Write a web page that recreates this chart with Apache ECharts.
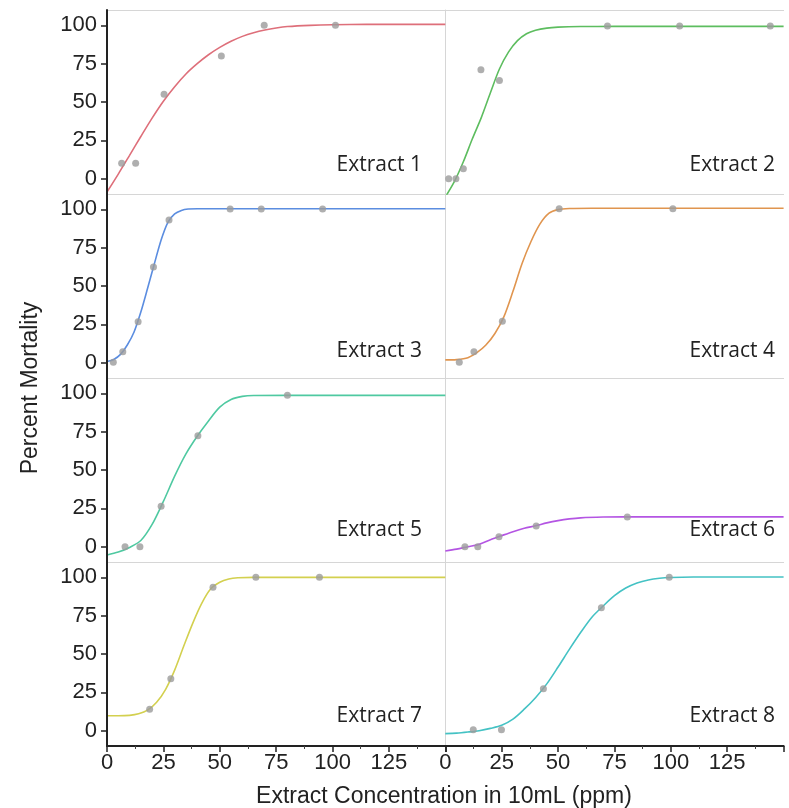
<!DOCTYPE html>
<html><head><meta charset="utf-8">
<script src="https://cdn.jsdelivr.net/npm/echarts@6/dist/echarts.min.js"></script>
<style>html,body{margin:0;padding:0;background:#fff}#c{width:789px;height:808px}</style>
</head><body><div id="c"></div>
<script>
// ---------- data ----------
const extractNames = ['Extract 1','Extract 2','Extract 3','Extract 4','Extract 5','Extract 6','Extract 7','Extract 8'];
const xTickValues = [0, 25, 50, 75, 100, 125];
const yTickValues = [0, 25, 50, 75, 100];
const xAxisTitle = 'Extract Concentration in 10mL (ppm)';
const yAxisTitle = 'Percent Mortality';

const ext1Points = [[6.5,10],[12.7,10],[25.3,55],[50.7,80],[69.7,100],[101.3,100]];
const ext1Curve  = [[0,-8.7],[5,3],[10,15.2],[15,27.5],[20,39.5],[25,50.5],[30,60],[35,68.3],[40,75],[45,80.8],[50,85.6],[55,89.6],[60,92.8],[65,95.2],[70,97],[75,98.3],[80,99.2],[90,100],[100,100.4],[115,100.6],[130,100.6],[150,100.6]];

const ext2Points = [[1.5,0],[4.7,0],[8,6.5],[15.8,71],[24,64],[71.9,99.6],[103.9,99.6],[144.1,99.6]];
const ext2Curve  = [[0,-12],[4,-2],[8,11],[12,26],[16,40],[20,56],[24,71.5],[28,82.5],[32,90],[36,94.5],[40,96.8],[45,98.2],[50,98.8],[60,99.2],[75,99.3],[100,99.3],[125,99.3],[150,99.3]];

const ext3Points = [[2.8,0.3],[7,7.2],[13.8,26.7],[20.6,62.4],[27.5,93],[54.6,100.2],[68.4,100.2],[95.6,100.2]];
const ext3Curve  = [[0,0.8],[3,2.1],[6,5.4],[9,11.5],[12,20],[15,33],[18,48.5],[21,64.5],[24,80],[27,91.5],[30,97],[33,99.3],[36,100.2],[40,100.4],[50,100.4],[75,100.4],[100,100.4],[150,100.4]];

const ext4Points = [[6.2,0.3],[12.7,7.2],[25.3,27],[50.5,100.3],[100.9,100.3]];
const ext4Curve  = [[0,1.8],[5,2],[10,3.2],[14,6.5],[18,11.5],[22,19],[26,30],[30,46.5],[34,64.5],[38,79],[42,90.5],[46,97.5],[50,99.8],[55,100.5],[65,100.7],[100,100.7],[150,100.7]];

const ext5Points = [[8,0],[14.6,0],[24,26.3],[40.3,72.4],[80,98.7]];
const ext5Curve  = [[0,-5.4],[5,-3.5],[10,-0.5],[15,4],[20,14.5],[25,29.5],[30,46],[35,60.5],[40,72],[45,82],[50,91],[55,96],[60,98],[65,98.6],[80,98.7],[100,98.7],[125,98.7],[150,98.7]];

const ext6Points = [[8.7,0],[14.4,0],[23.8,6.5],[40.3,13.4],[80.7,19.4]];
const ext6Curve  = [[0,-2.8],[5,-1.6],[10,0],[15,1.5],[20,4.5],[25,7.2],[30,9.8],[35,12],[40,13.6],[45,15.5],[50,17],[55,18.1],[60,18.8],[70,19.3],[80,19.4],[100,19.4],[125,19.4],[150,19.4]];

const ext7Points = [[18.9,14],[28.3,33.9],[47,93.5],[66,100],[94.2,100]];
const ext7Curve  = [[0,9.7],[5,9.7],[10,10],[14,11],[18,13.4],[22,18.5],[26,27],[30,39.5],[34,55],[38,70],[42,83],[46,92.5],[50,96.8],[54,98.9],[58,99.7],[65,100],[80,100],[100,100],[125,100],[150,100]];

const ext8Points = [[12.4,0.6],[24.9,0.6],[43.5,27.4],[69.2,80.2],[99.3,100]];
const ext8Curve  = [[0,-1.9],[5,-1.6],[10,-0.9],[15,0],[20,1.5],[25,3.5],[30,7.5],[35,14],[40,21.5],[45,30.5],[50,41.5],[55,53],[60,64],[65,74],[70,81.3],[75,88],[80,93],[85,96.3],[90,98.3],[95,99.4],[100,99.9],[110,100.2],[125,100.2],[150,100.2]];

const pointSets = [ext1Points,ext2Points,ext3Points,ext4Points,ext5Points,ext6Points,ext7Points,ext8Points];
const curveSets = [ext1Curve,ext2Curve,ext3Curve,ext4Curve,ext5Curve,ext6Curve,ext7Curve,ext8Curve];

// ---------- style ----------
const lineColors = ['#de6f7a','#5dbd5f','#5b8de0','#e0954f','#4fc9a1','#b455e3','#d3d04f','#44c2c4'];
const LEFT = 107, W = 338.3, TOP = 10, H = 184;
const labelCenters = [164.7, 351.3, 530.4, 716.2];
const axisFont = 'Liberation Sans, Arial, sans-serif';
const borderGray = '#d6d6d6';

const grids = [], xAxes = [], yAxes = [], series = [], graphics = [];
for (let i = 0; i < 8; i++) {
  const col = i % 2, row = Math.floor(i / 2);
  const bottomRow = row === 3, leftCol = col === 0;
  grids.push({ left: LEFT + col * W, top: TOP + row * H, width: W, height: H });
  xAxes.push({ type: 'value', gridIndex: i, min: 0, max: 150, interval: 25, position: 'bottom',
    axisLine: { show: true, onZero: false, lineStyle: bottomRow ? { color: '#222', width: 2 } : { color: borderGray, width: 1 } },
    axisTick: { show: bottomRow, length: 6, lineStyle: { color: '#222', width: 1.5 } },
    minorTick: { show: bottomRow, splitNumber: 2, length: 3, lineStyle: { color: '#444', width: 1 } },
    axisLabel: { show: bottomRow, customValues: xTickValues, fontSize: 22, color: '#222', margin: 6, fontFamily: axisFont },
    splitLine: { show: false }, minorSplitLine: { show: false }, z: bottomRow ? 5 : 1 });
  yAxes.push({ type: 'value', gridIndex: i, min: -10, max: 110,
    axisLine: { show: true, onZero: false, lineStyle: leftCol ? { color: '#222', width: 2 } : { color: borderGray, width: 1 } },
    axisTick: { show: leftCol, customValues: yTickValues, length: 6, lineStyle: { color: '#222', width: 1.5 } },
    axisLabel: { show: leftCol, customValues: yTickValues, fontSize: 22, color: '#222', margin: 10, fontFamily: axisFont },
    splitLine: { show: false }, z: leftCol ? 5 : 1 });
  series.push({ type: 'line', xAxisIndex: i, yAxisIndex: i, data: curveSets[i], smooth: 0.3,
    showSymbol: false, clip: true, lineStyle: { color: lineColors[i], width: 1.6 }, z: 2, silent: true });
  series.push({ type: 'scatter', xAxisIndex: i, yAxisIndex: i, data: pointSets[i], symbolSize: 7,
    itemStyle: { color: '#9b9b9b' }, z: 3, silent: true });
  graphics.push({ type: 'text', x: leftCol ? 422 : 775, y: labelCenters[row], z: 10,
    style: { text: extractNames[i], fill: '#222', font: '21px "Open Sans", sans-serif', textAlign: 'right', textVerticalAlign: 'middle' } });
}
// top border line of the first row
for (let c = 0; c < 2; c++) {
  xAxes.push({ type: 'value', gridIndex: c, min: 0, max: 150, position: 'top',
    axisLine: { show: true, onZero: false, lineStyle: { color: borderGray, width: 1 } },
    axisTick: { show: false }, axisLabel: { show: false }, splitLine: { show: false } });
}
graphics.push({ type: 'text', x: 444, y: 797, z: 10,
  style: { text: xAxisTitle, fill: '#222', font: '23px "Liberation Sans", Arial, sans-serif', textAlign: 'center', textVerticalAlign: 'middle' } });
graphics.push({ type: 'text', x: 31, y: 388, rotation: Math.PI / 2, z: 10,
  style: { text: yAxisTitle, fill: '#222', font: '23px "Liberation Sans", Arial, sans-serif', textAlign: 'center', textVerticalAlign: 'middle' } });

const chart = echarts.init(document.getElementById('c'), null, { renderer: 'canvas' });
chart.setOption({ animation: false, grid: grids, xAxis: xAxes, yAxis: yAxes, series: series, graphic: graphics });
</script></body></html>
